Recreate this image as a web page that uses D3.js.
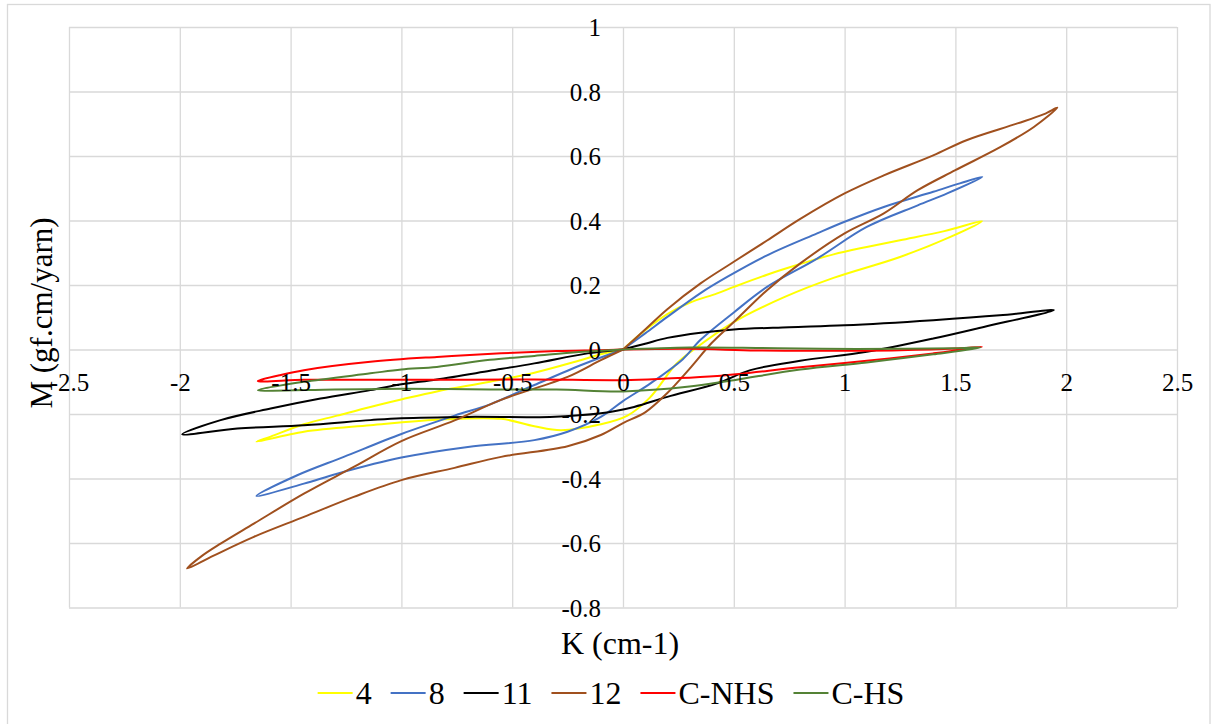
<!DOCTYPE html>
<html>
<head>
<meta charset="utf-8">
<script src="https://cdn.jsdelivr.net/npm/d3@7"></script>
<style>
  html, body { margin: 0; padding: 0; background: #fff; }
  svg { display: block; }
  svg text { font-family: "Liberation Serif", "Times New Roman", serif; fill: #000; }
</style>
</head>
<body>
<svg id="chart" width="1216" height="724"></svg>
<script>
// ---- data ----
const seriesNames = ["4", "8", "11", "12", "C-NHS", "C-HS"];
const seriesColors = ["#FFFF00", "#4472C4", "#000000", "#A0501E", "#FF0000", "#548235"];

const s4 = [[0,0],[0.1,0.06],[0.2,0.11],[0.3,0.145],[0.425,0.174],[0.5,0.194],[0.65,0.232],[0.8,0.265],[0.95,0.295],[1.1,0.318],[1.25,0.339],[1.45,0.367],[1.62,0.398],
  [1.48,0.35],[1.25,0.287],[0.95,0.222],[0.73,0.163],[0.5,0.085],[0.32,0.0],[0.24,-0.045],[0.12,-0.15],[0.02,-0.205],[-0.1,-0.232],[-0.28,-0.25],[-0.4,-0.238],[-0.55,-0.215],[-0.84,-0.218],[-1.14,-0.235],[-1.44,-0.255],[-1.654,-0.286],
  [-1.59,-0.27],[-1.44,-0.232],[-1.29,-0.205],[-1.14,-0.178],[-1.0,-0.155],[-0.84,-0.13],[-0.6,-0.1],[-0.4,-0.072],[-0.2,-0.035],[-0.1,-0.015],[0,0]];

const s8 = [[0,0],[0.1,0.05],[0.2,0.101],[0.35,0.175],[0.47,0.225],[0.65,0.292],[0.876,0.36],[1.0,0.396],[1.177,0.442],[1.4,0.489],[1.52,0.515],[1.621,0.535],
  [1.463,0.484],[1.33,0.447],[1.1,0.38],[0.876,0.282],[0.65,0.194],[0.5,0.115],[0.35,0.03],[0.27,-0.03],[0.124,-0.105],[0.0,-0.16],[-0.1,-0.209],[-0.25,-0.255],[-0.4,-0.281],[-0.7,-0.302],[-1.0,-0.335],[-1.29,-0.385],[-1.44,-0.416],[-1.654,-0.454],
  [-1.47,-0.39],[-1.26,-0.333],[-1.0,-0.262],[-0.76,-0.205],[-0.6,-0.17],[-0.4,-0.11],[-0.177,-0.045],[0,0]];

const s11 = [[0,0],[0.1,0.018],[0.2,0.036],[0.35,0.052],[0.5,0.062],[0.75,0.069],[1.0,0.075],[1.4,0.091],[1.7,0.106],[1.944,0.122],
  [1.628,0.07],[1.4,0.034],[1.1,-0.007],[0.8,-0.035],[0.575,-0.064],[0.425,-0.105],[0.2,-0.147],[0.05,-0.178],[-0.1,-0.198],[-0.33,-0.209],[-0.7,-0.209],[-1.0,-0.213],[-1.14,-0.219],[-1.44,-0.235],[-1.74,-0.245],[-1.989,-0.263],
  [-1.816,-0.219],[-1.59,-0.183],[-1.365,-0.152],[-1.14,-0.126],[-1.0,-0.108],[-0.84,-0.093],[-0.6,-0.066],[-0.4,-0.043],[-0.16,-0.012],[0,0]];

const s12 = [[0,0],[0.1,0.062],[0.2,0.125],[0.35,0.205],[0.5,0.272],[0.65,0.338],[0.8,0.405],[1.0,0.484],[1.177,0.54],[1.4,0.602],[1.55,0.649],[1.78,0.701],[1.9,0.73],[1.96,0.75],
  [1.854,0.69],[1.704,0.628],[1.5,0.556],[1.33,0.494],[1.177,0.422],[1.0,0.36],[0.8,0.267],[0.65,0.184],[0.5,0.085],[0.4,0.02],[0.3,-0.06],[0.2,-0.135],[0.1,-0.195],[0.0,-0.228],[-0.1,-0.265],[-0.25,-0.3],[-0.55,-0.333],[-0.76,-0.367],[-1.0,-0.405],[-1.215,-0.457],[-1.44,-0.519],[-1.666,-0.581],[-1.85,-0.64],[-1.967,-0.679],
  [-1.9,-0.64],[-1.816,-0.602],[-1.666,-0.54],[-1.44,-0.447],[-1.215,-0.364],[-1.0,-0.284],[-0.76,-0.22],[-0.553,-0.157],[-0.25,-0.085],[-0.1,-0.033],[0,0]];

const sCNHS = [[0,0],[0.3,0.002],[0.6,-0.003],[0.9,-0.004],[1.25,-0.002],[1.5,0.003],[1.621,0.008],
  [1.4,-0.012],[1.1,-0.035],[0.8,-0.055],[0.425,-0.082],[0.2,-0.09],[0,-0.095],[-0.4,-0.093],[-0.8,-0.094],[-1.2,-0.094],[-1.44,-0.094],[-1.648,-0.098],
  [-1.55,-0.08],[-1.44,-0.064],[-1.14,-0.038],[-0.84,-0.023],[-0.55,-0.012],[-0.3,-0.005],[-0.1,-0.002],[0,0]];

const sCHS = [[0,0],[0.3,0.006],[0.6,0.005],[0.9,0.002],[1.25,0.002],[1.5,0.004],[1.613,0.006],
  [1.4,-0.015],[1.1,-0.04],[0.8,-0.062],[0.5,-0.095],[0.3,-0.115],[0,-0.13],[-0.3,-0.124],[-0.6,-0.124],[-1.0,-0.122],[-1.3,-0.124],[-1.648,-0.126],
  [-1.55,-0.112],[-1.44,-0.1],[-1.14,-0.074],[-1.0,-0.062],[-0.84,-0.054],[-0.6,-0.032],[-0.4,-0.02],[-0.2,-0.008],[0,0]];

const xTicks = [-2.5, -2, -1.5, -1, -0.5, 0, 0.5, 1, 1.5, 2, 2.5];
const xTickLabels = ["-2.5", "-2", "-1.5", "-1", "-0.5", "0", "0.5", "1", "1.5", "2", "2.5"];
const yTicks = [-0.8, -0.6, -0.4, -0.2, 0, 0.2, 0.4, 0.6, 0.8, 1];
const yTickLabels = ["-0.8", "-0.6", "-0.4", "-0.2", "0", "0.2", "0.4", "0.6", "0.8", "1"];
const xTitle = "K (cm-1)";
const yTitle = "M (gf.cm/yarn)";

// ---- layout ----
const serif = "'Liberation Serif', 'Times New Roman', serif";
const svg = d3.select("#chart");
const plot = { left: 69, right: 1177, top: 27, bottom: 607.5 };
const x = d3.scaleLinear().domain([-2.5, 2.5]).range([plot.left, plot.right]);
const y = d3.scaleLinear().domain([-0.8, 1]).range([plot.bottom, plot.top]);
const gridColor = "#D9D9D9";

// outer chart border
svg.append("rect").attr("x", 7.5).attr("y", 4.5).attr("width", 1202.5).attr("height", 730)
  .attr("fill", "#fff").attr("stroke", gridColor).attr("stroke-width", 1.3);

// gridlines via axes
const gx = svg.append("g").attr("transform", `translate(0,${plot.bottom})`)
  .call(d3.axisBottom(x).tickValues(xTicks).tickSize(-(plot.bottom - plot.top)).tickFormat(""));
const gy = svg.append("g").attr("transform", `translate(${plot.left},0)`)
  .call(d3.axisLeft(y).tickValues(yTicks).tickSize(-(plot.right - plot.left)).tickFormat(""));
[gx, gy].forEach(g => {
  g.select(".domain").remove();
  g.selectAll(".tick line").attr("stroke", gridColor).attr("stroke-width", 1.3);
});

// series lines
const line = d3.line().x(d => x(d[0])).y(d => y(d[1])).curve(d3.curveCatmullRom.alpha(0.5));
const allSeries = [s4, s8, s11, s12, sCNHS, sCHS];
allSeries.forEach((s, i) => {
  svg.append("path").datum(s).attr("d", line)
    .attr("fill", "none").attr("stroke", seriesColors[i]).attr("stroke-width", 2)
    .attr("stroke-linejoin", "round").attr("stroke-linecap", "round");
});

// tick labels (axes cross at 0)
const tickFont = 25;
const xl = svg.append("g").attr("transform", `translate(0,${y(0) + 33})`)
  .call(d3.axisBottom(x).tickValues(xTicks).tickSize(0).tickPadding(0)
    .tickFormat((d, i) => xTickLabels[i]));
xl.attr("font-family", serif).attr("font-size", tickFont);
xl.select(".domain").remove();
xl.selectAll("text").attr("dy", "0.35em").attr("y", 0).attr("fill", "#000");

const yl = svg.append("g").attr("transform", `translate(${x(0) - 22},0)`)
  .call(d3.axisLeft(y).tickValues(yTicks).tickSize(0).tickPadding(0)
    .tickFormat((d, i) => yTickLabels[i]));
yl.attr("font-family", serif).attr("font-size", tickFont);
yl.select(".domain").remove();
yl.selectAll("text").attr("dy", "0.35em").attr("x", 0).attr("fill", "#000");

// axis titles
svg.append("text").attr("x", 620).attr("y", 654).attr("text-anchor", "middle")
  .attr("font-size", 32).text(xTitle);
svg.append("text").attr("transform", "translate(52,313) rotate(-90)").attr("text-anchor", "middle")
  .attr("font-size", 31).text(yTitle);

// legend
const legend = svg.append("g");
let cx = 0;
const legY = 693;
seriesNames.forEach((name, i) => {
  const g = legend.append("g").attr("transform", `translate(${cx},0)`);
  g.append("line").attr("x1", 0).attr("x2", 35).attr("y1", legY).attr("y2", legY)
    .attr("stroke", seriesColors[i]).attr("stroke-width", 2);
  const t = g.append("text").attr("x", 38).attr("y", legY).attr("dy", "0.35em")
    .attr("font-size", 32).text(name);
  cx += 38 + t.node().getComputedTextLength() + 19;
});
const legW = cx - 19;
legend.attr("transform", `translate(${611 - legW / 2},0)`);
</script>
</body>
</html>
